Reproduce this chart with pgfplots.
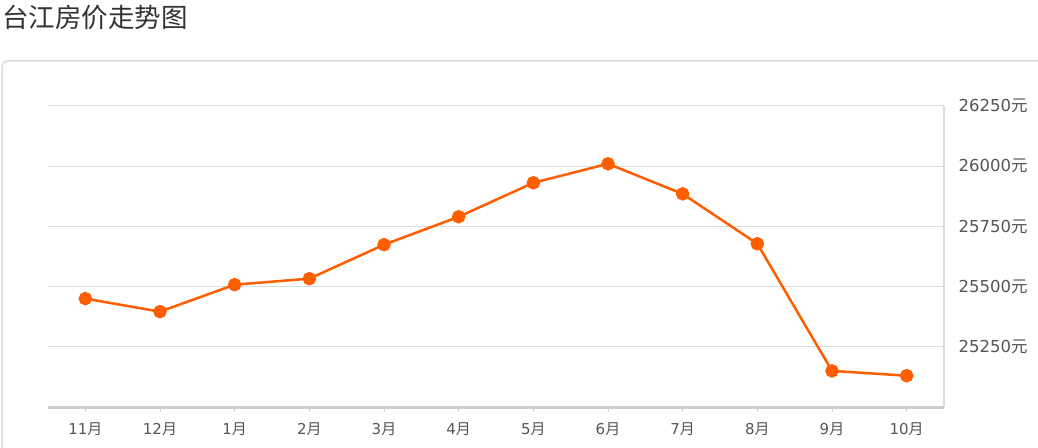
\documentclass[border=0pt]{standalone}
\usepackage{fontspec}
\setmainfont{Noto Sans CJK SC}
\newfontfamily\numfont{DejaVu Sans}
\usepackage{pgfplots}
\pgfplotsset{compat=1.18}
\definecolor{lineor}{RGB}{255,94,0}
\definecolor{ticktxt}{RGB}{85,85,85}
\definecolor{gridc}{RGB}{220,220,220}
\definecolor{axisc}{RGB}{205,205,205}
\begin{document}
\begin{tikzpicture}
\clip (0pt,0pt) rectangle (1038pt,447pt);
\path (0pt,0pt) rectangle (1038pt,447pt);
% title and panel frame
\node[anchor=base west, inner sep=0pt, text=black!80] at (2pt,419pt)
  {\fontsize{26.5}{30}\selectfont 台江房价走势图};
\draw[gridc, line width=1.5pt, rounded corners=5pt] (2pt,-20pt) rectangle (1070pt,386pt);
\begin{axis}[
    at={(48pt,40pt)}, anchor=south west,
    scale only axis,
    width=896pt, height=301pt,
    xmin=-0.5, xmax=11.5,
    ymin=25000, ymax=26250,
    scaled y ticks=false,
    axis x line*=bottom,
    axis y line*=right,
    x axis line style={axisc, line width=3pt},
    y axis line style={gridc, line width=1.2pt},
    xtick={0,...,11},
    xticklabels={{\numfont 11}月,{\numfont 12}月,{\numfont 1}月,{\numfont 2}月,{\numfont 3}月,{\numfont 4}月,
                 {\numfont 5}月,{\numfont 6}月,{\numfont 7}月,{\numfont 8}月,{\numfont 9}月,{\numfont 10}月},
    ytick={25250,25500,25750,26000,26250},
    yticklabels={{\numfont 25250}元,{\numfont 25500}元,{\numfont 25750}元,{\numfont 26000}元,{\numfont 26250}元},
    ymajorgrids,
    grid style={gridc, line width=1pt},
    tick align=outside,
    xtick style={axisc, line width=1pt},
    major tick length=5pt,
    ytick style={draw=none},
    xticklabel style={font=\fontsize{15}{18}\selectfont, text=ticktxt, yshift=-7pt},
    yticklabel style={font=\fontsize{16.5}{19}\selectfont, text=ticktxt, xshift=6pt},
]
\addplot[lineor, line width=2.5pt, mark=*, mark size=5.5pt, mark options={fill=lineor, draw=lineor}]
  coordinates {(0,25450) (1,25396) (2,25508) (3,25533) (4,25674) (5,25790)
               (6,25931) (7,26010) (8,25885) (9,25678) (10,25150) (11,25130)};
\end{axis}
\end{tikzpicture}
\end{document}
